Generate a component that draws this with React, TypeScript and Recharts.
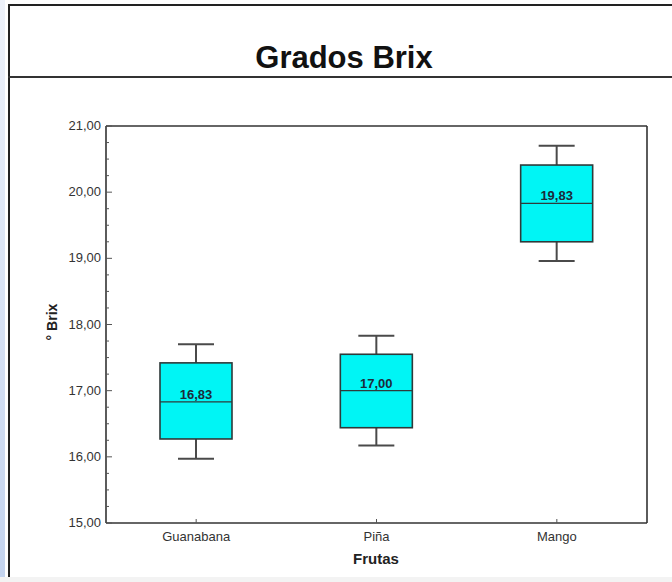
import React from 'react';
import { ComposedChart, Bar, XAxis, YAxis, ReferenceLine } from 'recharts';

// Box plot values
const frutas = ['Guanabana', 'Piña', 'Mango'];
const minimos = [15.97, 16.17, 18.96];
const cuartil1 = [16.27, 16.44, 19.25];
const medianas = [16.83, 17.0, 19.83];
const cuartil3 = [17.42, 17.55, 20.41];
const maximos = [17.7, 17.83, 20.7];

const yTicks = [
  15, 15.25, 15.5, 15.75, 16, 16.25, 16.5, 16.75, 17, 17.25, 17.5, 17.75,
  18, 18.25, 18.5, 18.75, 19, 19.25, 19.5, 19.75, 20, 20.25, 20.5, 20.75, 21
];

const FONT = '"Liberation Sans", Arial, sans-serif';

const data = frutas.map((name, i) => ({
  name,
  min: minimos[i],
  q1: cuartil1[i],
  median: medianas[i],
  q3: cuartil3[i],
  max: maximos[i]
}));

const fmt = (v: number) => v.toFixed(2).replace('.', ',');

const BoxShape = (props: any) => {
  const { x, y, width, height, payload } = props;
  const top = Math.min(y, y + height);
  const h = Math.abs(height);
  const span = payload.max - payload.min;
  const py = (v: number) => top + ((payload.max - v) / span) * h;
  const cx = x + width / 2;
  const cap = width / 4;
  const yQ3 = py(payload.q3);
  const yQ1 = py(payload.q1);
  const yMed = py(payload.median);
  return (
    <g>
      <line x1={cx} x2={cx} y1={top} y2={yQ3} stroke="#4a4a4a" strokeWidth={2} />
      <line x1={cx} x2={cx} y1={yQ1} y2={top + h} stroke="#4a4a4a" strokeWidth={2} />
      <line x1={cx - cap} x2={cx + cap} y1={top} y2={top} stroke="#4a4a4a" strokeWidth={2} />
      <line x1={cx - cap} x2={cx + cap} y1={top + h} y2={top + h} stroke="#4a4a4a" strokeWidth={2} />
      <rect x={x} y={yQ3} width={width} height={yQ1 - yQ3} fill="#00F5F5" stroke="#2e3a3a" strokeWidth={1.6} />
      <line x1={x} x2={x + width} y1={yMed} y2={yMed} stroke="#2e3a3a" strokeWidth={1.4} />
      <text x={cx} y={yMed - 3} textAnchor="middle" fontSize={13} fontWeight="bold" fill="#1d2b3a" fontFamily={FONT}>
        {fmt(payload.median)}
      </text>
    </g>
  );
};

const LeftTick = (props: any) => {
  const { x, y, payload } = props;
  const major = Number.isInteger(payload.value);
  return (
    <g>
      <line x1={x} x2={x + (major ? 6 : 3)} y1={y} y2={y} stroke="#555" strokeWidth={1} />
      {major && (
        <text x={x - 5} y={y} dy={4} textAnchor="end" fontSize={13} fill="#333" fontFamily={FONT}>
          {fmt(payload.value)}
        </text>
      )}
    </g>
  );
};

const RightTick = (props: any) => {
  const { x, y, payload } = props;
  const major = Number.isInteger(payload.value);
  return <line x1={x} x2={x - (major ? 6 : 3)} y1={y} y2={y} stroke="#555" strokeWidth={1} />;
};

const BottomTick = (props: any) => {
  const { x, y, payload } = props;
  return (
    <g>
      <line x1={x} x2={x} y1={y} y2={y - 4} stroke="#555" strokeWidth={1} />
      <text x={x} y={y + 18} textAnchor="middle" fontSize={13} fill="#333" fontFamily={FONT}>
        {payload.value}
      </text>
    </g>
  );
};

export default function App() {
  return (
    <div style={{ position: 'relative', width: 672, height: 582, background: '#fff', overflow: 'hidden', fontFamily: FONT }}>
      <style>{'body{margin:0}'}</style>
      {/* slide background strip on the left */}
      <div style={{ position: 'absolute', left: 0, top: 0, width: 5, height: 582, background: 'linear-gradient(#eef2fa, #c3d3ee)' }} />
      {/* outer frame */}
      <div style={{ position: 'absolute', left: 8, top: 4, width: 700, height: 600, borderLeft: '2px solid #222', borderTop: '2px solid #222' }} />
      <div style={{ position: 'absolute', left: 8, top: 76, width: 700, height: 0, borderTop: '2px solid #333' }} />
      <div style={{ position: 'absolute', left: 0, top: 577, width: 672, height: 5, background: '#f3f3f3' }} />

      <div style={{ position: 'absolute', left: 8, width: 672, top: 40, textAlign: 'center', fontSize: 31, fontWeight: 'bold', color: '#111', lineHeight: '36px' }}>
        Grados Brix
      </div>

      <ComposedChart
        width={672}
        height={582}
        data={data}
        margin={{ top: 126, right: 15, bottom: 29, left: 66 }}
        style={{ position: 'absolute', left: 0, top: 0 }}
      >
        <XAxis
          dataKey="name"
          height={30}
          tickSize={0}
          tickMargin={0}
          tick={<BottomTick />}
          axisLine={{ stroke: '#333', strokeWidth: 1.6 }}
          tickLine={false}
        />
        <YAxis
          width={40}
          domain={[15, 21]}
          ticks={yTicks}
          interval={0}
          tickSize={0}
          tickMargin={0}
          tick={<LeftTick />}
          tickLine={false}
          axisLine={{ stroke: '#333', strokeWidth: 1.6 }}
        />
        <YAxis
          yAxisId="r"
          orientation="right"
          width={10}
          domain={[15, 21]}
          ticks={yTicks}
          interval={0}
          tickSize={0}
          tickMargin={0}
          tick={<RightTick />}
          tickLine={false}
          axisLine={{ stroke: '#333', strokeWidth: 1.6 }}
        />
        <ReferenceLine y={21} stroke="#333" strokeWidth={1.6} />
        <Bar
          dataKey={(d: any) => [d.min, d.max]}
          barSize={72}
          shape={<BoxShape />}
          isAnimationActive={false}
        />
      </ComposedChart>

      <div style={{ position: 'absolute', left: 276, width: 200, top: 550, textAlign: 'center', fontSize: 15, fontWeight: 'bold', color: '#222' }}>
        Frutas
      </div>
      <div
        style={{
          position: 'absolute', left: 52, top: 322, width: 100, textAlign: 'center', fontSize: 14, fontWeight: 'bold', color: '#222',
          transform: 'translate(-50%, -50%) rotate(-90deg)', lineHeight: '16px'
        }}
      >
        ° Brix
      </div>
    </div>
  );
}
